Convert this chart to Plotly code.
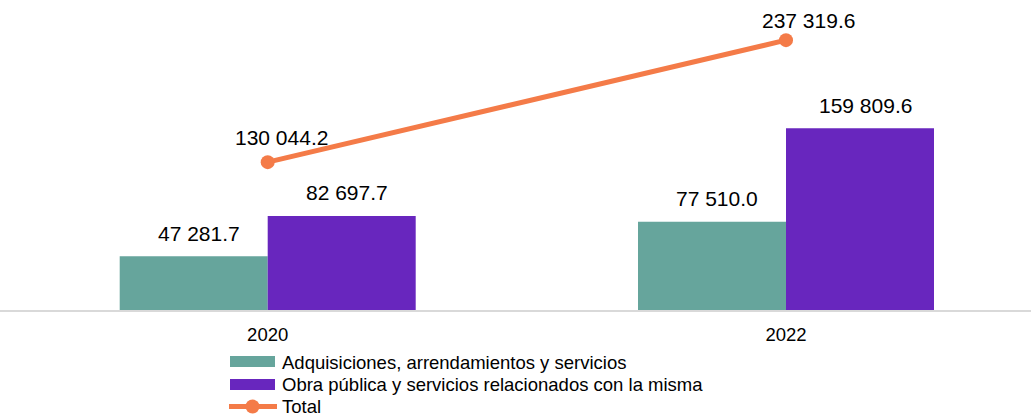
import plotly.graph_objects as go

# ---- data ----
years = ["2020", "2022"]
adquisiciones = [47281.7, 77510.0]
obra_publica = [82697.7, 159809.6]
total = [130044.2, 237319.6]

names = ["Adquisiciones, arrendamientos y servicios",
         "Obra pública y servicios relacionados con la misma",
         "Total"]

# ---- style ----
teal = "#66A59C"
purple = "#6826BE"
orange = "#F47B48"
font_family = "Liberation Sans, Arial, sans-serif"
W, H = 1031, 416
M_L, M_R, M_T, M_B = 0, 0, 10, 106
PLOT_H = H - M_T - M_B


def fmt(v):
    return f"{v:,.1f}".replace(",", " ")


def px_x(p):
    return p / W


def px_y(p):
    return (H - M_B - p) / PLOT_H


fig = go.Figure()
fig.add_trace(go.Bar(x=years, y=adquisiciones, name=names[0],
                     marker=dict(color=teal, line=dict(width=0)),
                     showlegend=False))
fig.add_trace(go.Bar(x=years, y=obra_publica, name=names[1],
                     marker=dict(color=purple, line=dict(width=0)),
                     showlegend=False))
fig.add_trace(go.Scatter(x=years, y=total, name=names[2], mode="lines+markers",
                         line=dict(color=orange, width=5),
                         marker=dict(color=orange, size=14),
                         cliponaxis=False, showlegend=False))

# value labels (category axis -> use category index)
label_font = dict(family=font_family, size=21, color="#000000")
bar_half = 74
for series, side in ((adquisiciones, -1), (obra_publica, 1)):
    for i, v in enumerate(series):
        fig.add_annotation(x=i, y=v, xref="x", yref="y", text=fmt(v),
                           showarrow=False, font=label_font,
                           xshift=side * bar_half + 5, yshift=23)
line_label_shift = [(14, 25), (22, 20)]
for i, (v, (dx, dy)) in enumerate(zip(total, line_label_shift)):
    fig.add_annotation(x=i, y=v, xref="x", yref="y", text=fmt(v),
                       showarrow=False, font=label_font, xshift=dx, yshift=dy)

# manual legend (wide swatches like the original)
legend_font = dict(family=font_family, size=18.5, color="#000000")
rows = [362, 384.5, 406.5]
shapes = []
shapes.append(dict(type="rect", xref="paper", yref="paper",
                   x0=px_x(230), x1=px_x(275), y0=px_y(356), y1=px_y(367),
                   fillcolor=teal, line=dict(width=0)))
shapes.append(dict(type="rect", xref="paper", yref="paper",
                   x0=px_x(230), x1=px_x(275), y0=px_y(379), y1=px_y(390),
                   fillcolor=purple, line=dict(width=0)))
shapes.append(dict(type="line", xref="paper", yref="paper",
                   x0=px_x(229), x1=px_x(277), y0=px_y(406.5), y1=px_y(406.5),
                   line=dict(color=orange, width=5)))
shapes.append(dict(type="circle", xref="paper", yref="paper",
                   x0=px_x(245.5), x1=px_x(259.5), y0=px_y(399.5), y1=px_y(413.5),
                   fillcolor=orange, line=dict(width=0)))
for name, r in zip(names, rows):
    fig.add_annotation(x=px_x(280), y=px_y(r), xref="paper", yref="paper",
                       text=name, showarrow=False, xanchor="left",
                       yanchor="middle", font=legend_font)

fig.update_layout(
    width=W, height=H,
    margin=dict(l=M_L, r=M_R, t=M_T, b=M_B, autoexpand=False),
    paper_bgcolor="white", plot_bgcolor="white",
    barmode="group", bargap=0.4289, bargroupgap=0,
    font=dict(family=font_family, size=18.5, color="#000000"),
    showlegend=False,
    shapes=shapes,
    xaxis=dict(type="category", range=[-0.5165, 1.4727], showline=True,
               linecolor="#D9D9D9", linewidth=1.5, ticks="", showgrid=False,
               tickfont=dict(size=18.5), automargin=False,
               ticklabelstandoff=7),
    yaxis=dict(range=[0, 263850], visible=False, showgrid=False,
               automargin=False, zeroline=False),
)

fig.write_html("out.html",
               config={"displayModeBar": False},
               post_script="document.body.style.margin='0';"
                           "document.body.style.overflow='hidden';")
